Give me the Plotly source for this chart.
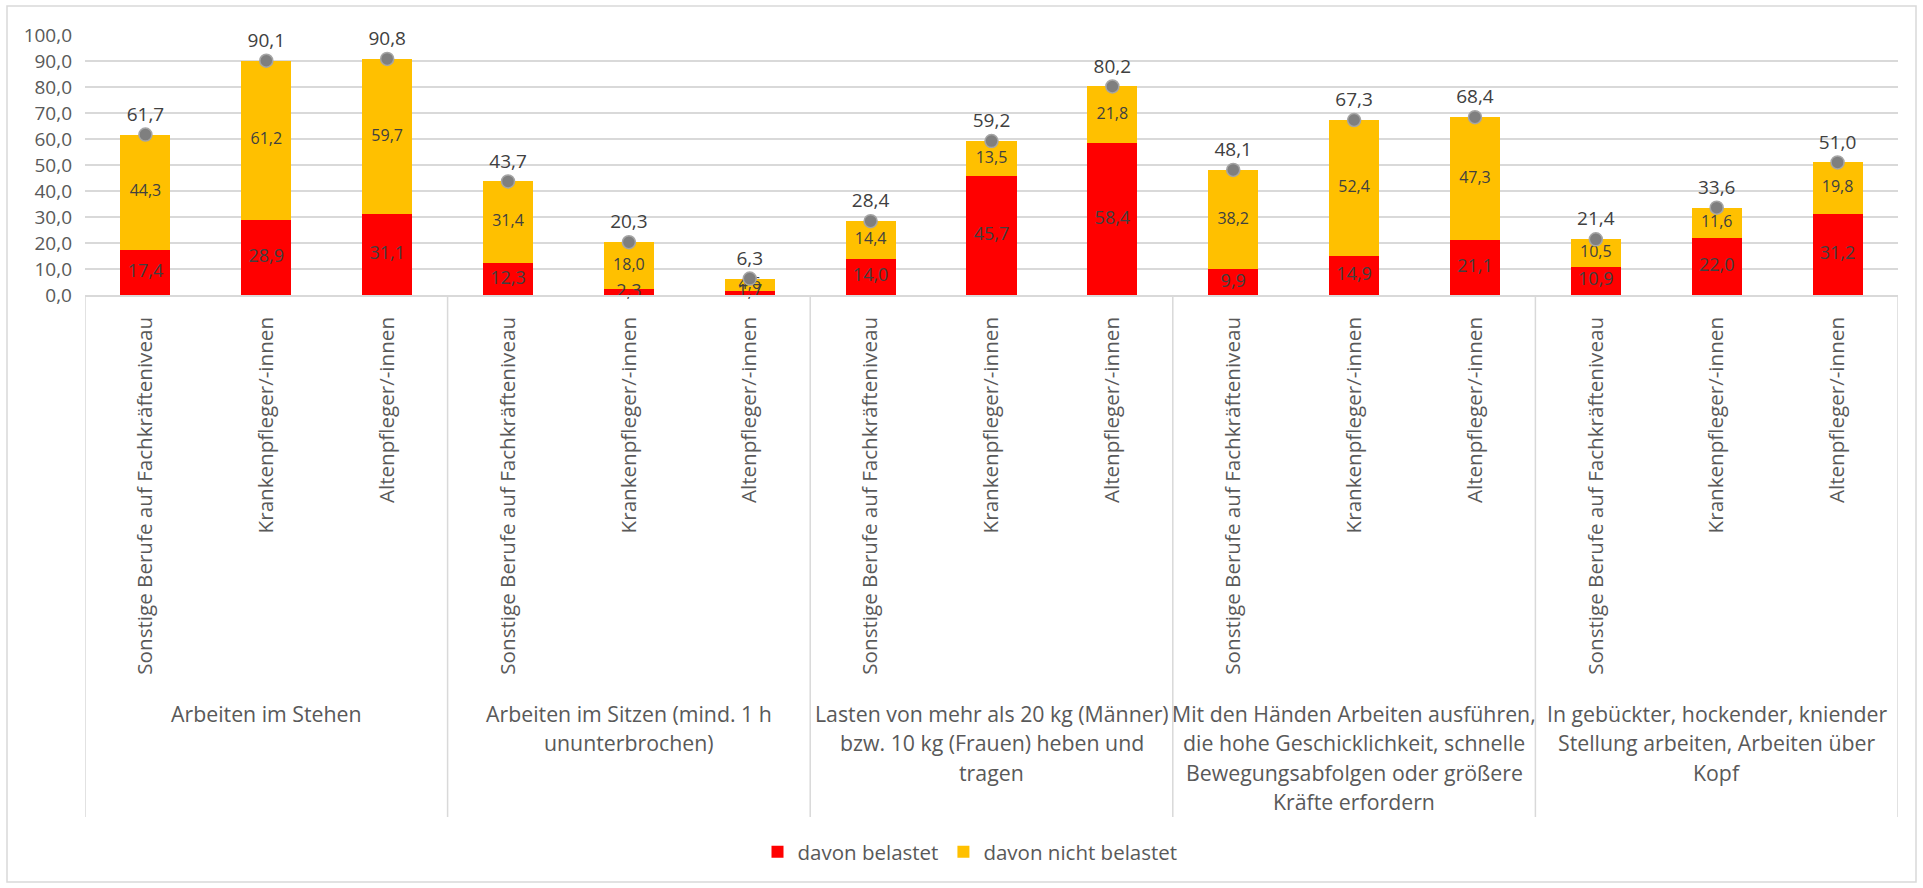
import plotly.graph_objects as go

# ---------------- data ----------------
occupations = [
    "Sonstige Berufe auf Fachkräfteniveau",
    "Krankenpfleger/-innen",
    "Altenpfleger/-innen",
] * 5

group_labels = [
    ["Arbeiten im Stehen"],
    ["Arbeiten im Sitzen (mind. 1 h", "ununterbrochen)"],
    ["Lasten von mehr als 20 kg (Männer)", "bzw. 10 kg (Frauen) heben und", "tragen"],
    ["Mit den Händen Arbeiten ausführen,", "die hohe Geschicklichkeit, schnelle",
     "Bewegungsabfolgen oder größere", "Kräfte erfordern"],
    ["In gebückter, hockender, kniender", "Stellung arbeiten, Arbeiten über", "Kopf"],
]

belastet = [17.4, 28.9, 31.1, 12.3, 2.3, 1.7, 14.0, 45.7, 58.4, 9.9, 14.9, 21.1, 10.9, 22.0, 31.2]
nicht_belastet = [44.3, 61.2, 59.7, 31.4, 18.0, 4.6, 14.4, 13.5, 21.8, 38.2, 52.4, 47.3, 10.5, 11.6, 19.8]
gesamt = [61.7, 90.1, 90.8, 43.7, 20.3, 6.3, 28.4, 59.2, 80.2, 48.1, 67.3, 68.4, 21.4, 33.6, 51.0]

y_ticks = [0, 10, 20, 30, 40, 50, 60, 70, 80, 90, 100]


def de(v):
    return f"{v:.1f}".replace(".", ",")


# ---------------- layout constants (pixels) ----------------
W, H = 1923, 888
L, R, T, B = 85, 25, 35, 593
plot_h = H - T - B
FONT = "Open Sans"
AXIS_GREY = "#595959"
LABEL_GREY = "#404040"
GRID = "#d9d9d9"

x = list(range(len(occupations)))

fig = go.Figure()

fig.add_trace(go.Bar(
    x=x, y=belastet, name="davon belastet",
    marker=dict(color="#ff0000", line=dict(width=0)),
    width=0.414,
))
fig.add_trace(go.Bar(
    x=x, y=nicht_belastet, name="davon nicht belastet",
    marker=dict(color="#ffc000", line=dict(width=0)),
    width=0.414,
))

# segment labels
fig.add_trace(go.Scatter(
    x=x, y=[v / 2 for v in belastet], mode="text",
    text=[de(v) for v in belastet],
    textfont=dict(family=FONT, size=18, color=LABEL_GREY),
    showlegend=False, hoverinfo="skip", cliponaxis=False,
))
fig.add_trace(go.Scatter(
    x=x, y=[b + n / 2 for b, n in zip(belastet, nicht_belastet)], mode="text",
    text=[de(v) for v in nicht_belastet],
    textfont=dict(family=FONT, size=16, color=LABEL_GREY),
    showlegend=False, hoverinfo="skip", cliponaxis=False,
))

# totals
fig.add_trace(go.Scatter(
    x=x, y=gesamt, mode="markers+text",
    marker=dict(size=13, color="#7f7f7f", line=dict(width=1.5, color="#a5a5a5")),
    text=[de(v) for v in gesamt], textposition="top center",
    textfont=dict(family=FONT, size=19, color=LABEL_GREY),
    showlegend=False, hoverinfo="skip", cliponaxis=False,
))

# vertical separators on the category axis
axis_px = T + plot_h
sep_len = 817 - axis_px
for k in range(6):
    xs = 3 * k - 0.5
    fig.add_shape(type="line", xref="x", yref="paper",
                  x0=xs, x1=xs, y0=0, y1=-sep_len / plot_h,
                  line=dict(color=GRID, width=1.5), layer="below")

# group labels (one annotation per line)
line_centers = [713, 742.5, 772, 801.5]
for g, lines in enumerate(group_labels):
    for i, txt in enumerate(lines):
        fig.add_annotation(
            x=3 * g + 1, xref="x", y=0, yref="paper",
            yanchor="middle", xanchor="center",
            yshift=-(line_centers[i] - axis_px),
            text=txt, showarrow=False,
            font=dict(family=FONT, size=21.3, color=AXIS_GREY),
        )

# outer chart border
fig.add_shape(type="rect", xref="paper", yref="paper",
              x0=(7 - L) / (W - L - R), x1=(1916 - L) / (W - L - R),
              y0=(axis_px - 882) / plot_h, y1=(axis_px - 6) / plot_h,
              line=dict(color=GRID, width=1.5), fillcolor="rgba(0,0,0,0)", layer="below")

fig.update_layout(
    width=W, height=H,
    margin=dict(l=L, r=R, t=T, b=B),
    barmode="stack",
    plot_bgcolor="white", paper_bgcolor="white",
    font=dict(family=FONT, color=AXIS_GREY),
    showlegend=True,
    legend=dict(
        orientation="h", xref="container", yref="container",
        x=970 / W, xanchor="center",
        y=(H - 852) / H, yanchor="middle",
        font=dict(family=FONT, size=20.5, color=AXIS_GREY),
        traceorder="normal", itemwidth=30, bgcolor="rgba(0,0,0,0)",
    ),
    xaxis=dict(
        range=[-0.5, 14.5], tickmode="array", tickvals=x, ticktext=occupations,
        tickangle=-90, tickfont=dict(family=FONT, size=20.6, color=AXIS_GREY),
        showgrid=False, zeroline=False, showline=True, linecolor=GRID, linewidth=1.5,
        ticks="", ticklabelstandoff=12,
    ),
    yaxis=dict(
        range=[0, 100], tickmode="array", tickvals=y_ticks,
        ticktext=[de(v) for v in y_ticks],
        tickfont=dict(family=FONT, size=19, color=AXIS_GREY),
        showgrid=True, gridcolor=GRID, gridwidth=1.5, zeroline=False,
        showline=False, ticks="", ticklabelstandoff=12,
    ),
)

fig.write_html("out.html")
